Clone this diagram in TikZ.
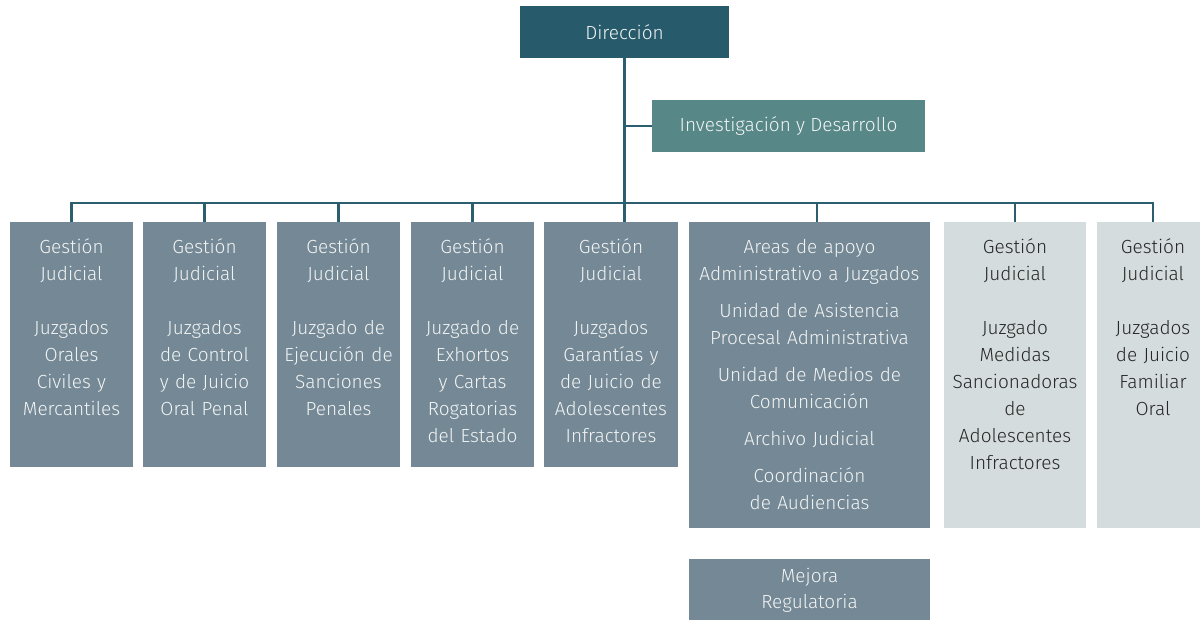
\documentclass[tikz,border=0pt]{standalone}
\usepackage{fontspec}
\setmainfont{Fira Sans Light}
\usepackage{tikz}
\usetikzlibrary{positioning,calc}

\definecolor{direccion}{HTML}{275B6B}
\definecolor{investiga}{HTML}{588787}
\definecolor{gestion}{HTML}{748895}
\definecolor{claro}{HTML}{D5DCDE}
\definecolor{linea}{HTML}{2B5E6F}
\definecolor{blanco}{HTML}{F2F4F4}

\begin{document}
\begin{tikzpicture}[x=1pt, y=-1pt,
	jefe/.style={fill=direccion, text=blanco, inner sep=0pt, align=center,
		minimum height=52pt, font=\fontsize{19}{26}\selectfont},
	caja/.style={fill=gestion, text=blanco, inner sep=0pt, align=center, anchor=north,
		font=\fontsize{19}{27}\selectfont, text height=31pt},
	corta/.style={caja, text depth=214pt},
	larga/.style={caja, text depth=275pt},
	clara/.style={larga, fill=claro, text=black!85},
	conector/.style={draw=linea, line width=2.6pt}]

	\useasboundingbox (0,0) rectangle (1200,619);

	% top of the chart
	\node[jefe, minimum width=209pt] (dir) at (624.5,32) {Dirección};
	\node[jefe, fill=investiga, minimum width=273pt] (inv) at (788.5,126) {Investigación y Desarrollo};

	% first row, all boxes hang at y=222
	\node[corta, text width=123pt] (g1) at (71.5,222)
		{Gestión\\Judicial\\[27pt]Juzgados\\Orales\\Civiles y\\Mercantiles};
	\node[corta, text width=123pt] (g2) at (204.5,222)
		{Gestión\\Judicial\\[27pt]Juzgados\\de Control\\y de Juicio\\Oral Penal};
	\node[corta, text width=123pt] (g3) at (338.5,222)
		{Gestión\\Judicial\\[27pt]Juzgado de\\Ejecución de\\Sanciones\\Penales};
	\node[corta, text width=123pt] (g4) at (472.5,222)
		{Gestión\\Judicial\\[27pt]Juzgado de\\Exhortos\\y Cartas\\Rogatorias\\del Estado};
	\node[corta, text width=134pt] (g5) at (611,222)
		{Gestión\\Judicial\\[27pt]Juzgados\\Garantías y\\de Juicio de\\Adolescentes\\Infractores};
	\node[larga, text width=241pt] (ap) at (809.5,222)
		{Areas de apoyo\\Administrativo a Juzgados\\[10pt]Unidad de Asistencia\\Procesal Administrativa\\[10pt]Unidad de Medios de\\Comunicación\\[10pt]Archivo Judicial\\[10pt]Coordinación\\de Audiencias};
	\node[clara, text width=142pt] (g7) at (1015,222)
		{Gestión\\Judicial\\[27pt]Juzgado\\Medidas\\Sancionadoras\\de\\Adolescentes\\Infractores};
	\node[clara, text width=112pt] (g8) at (1153,222)
		{Gestión\\Judicial\\[27pt]Juzgados\\de Juicio\\Familiar\\Oral};

	\node[jefe, fill=gestion, minimum height=62pt, text width=241pt] (mej) at (809.5,590)
		{Mejora\\Regulatoria};

	% connectors
	\coordinate (bus) at (0,203);
	\draw[conector] (dir.south) -- (dir.south |- g5.north);
	\draw[conector] (inv.west) -- (inv.west -| dir.south);
	\draw[conector] (g1.north) |- (bus -| g8.north) -- (g8.north);
	\foreach \n in {g2,g3,g4,g7}
		\draw[conector] (\n.north) -- (\n.north |- bus);
	\draw[conector] ([xshift=7.5pt]ap.north) -- ([xshift=7.5pt]ap.north |- bus);

\end{tikzpicture}
\end{document}
